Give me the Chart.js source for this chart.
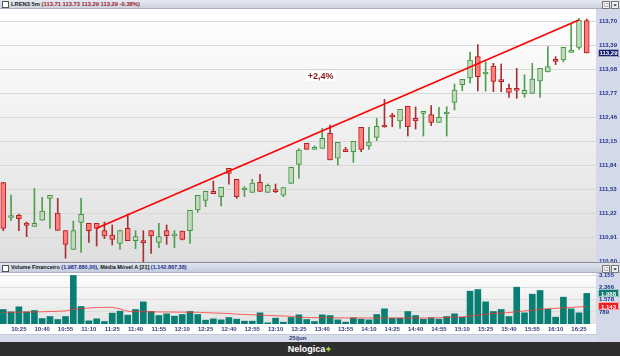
<!DOCTYPE html>
<html lang="pt-BR">
<head>
<meta charset="UTF-8">
<title>LREN3 5m</title>
<script src="https://cdn.jsdelivr.net/npm/chart.js"></script>
<style>
  body { margin:0; width:620px; height:356px; position:relative; overflow:hidden; background:#fff; font-family:"Liberation Sans", Arial, sans-serif; }
  .strip { position:absolute; box-sizing:border-box; }
  #top { left:0; top:0; width:620px; height:9px; background:linear-gradient(#e6e9f1,#cdd3e0); border-bottom:1px solid #a9b0c0; font-size:5.8px; font-weight:bold; line-height:8px; padding-left:11px; color:#222; }
  #top .v { color:#9c1b1b; }
  #volHead .b { color:#1d2f8c; }
  .ico { position:absolute; top:1px; width:5px; height:5px; border:1px solid #555; background:#fff; }
  .win { position:absolute; top:1px; width:6px; height:6px; border:1px solid #777; background:#f3f3f3; font-size:6px; line-height:6px; text-align:center; color:#222; }
  #axisTop { left:596px; top:9px; width:24px; height:253px; background:#d4d9ea; }
  #volHead { left:0; top:262px; width:620px; height:11px; background:linear-gradient(#dfe4ee,#c5cddd); border-top:1px solid #8b8f99; border-bottom:1px solid #aab2c4; font-size:5.5px; font-weight:bold; line-height:9px; padding-left:11px; color:#111; }
  #axisVol { left:596px; top:273px; width:24px; height:69px; background:#d4d9ea; }
  #dateRow { left:0; top:334px; width:596px; height:8px; background:#d6dcea; border-top:1px solid #c2c9d8; font-size:6px; font-weight:bold; line-height:7px; color:#2a3d7c; }
  #foot { left:0; top:342px; width:620px; height:14px; background:#2f2f2f; color:#fff; font-size:9px; font-weight:bold; line-height:14px; text-align:center; }
  #foot span { color:#9bdc3c; font-size:8px; }
  canvas { position:absolute; left:0; }
</style>
</head>
<body>
<div class="strip" id="top"><span class="ico" style="left:2px"></span>LREN3 5m <span class="v">(113.71 113.73 113.29 113.29 -0.38%)</span>
  <span class="win" style="left:602px">□</span><span class="win" style="left:611px">×</span></div>
<div class="strip" id="axisTop"></div>
<canvas id="price" width="620" height="252" style="top:10px"></canvas>
<div class="strip" id="volHead"><span class="ico" style="left:2px;top:2px"></span>Volume Financeiro <span class="b">(1.987.880,00)</span>, Média Móvel A [21] <span class="b">(1.142.867,38)</span>
  <span class="win" style="left:602px;top:2px">□</span><span class="win" style="left:611px;top:2px">×</span></div>
<div class="strip" id="axisVol"></div>
<canvas id="vol" width="620" height="61" style="top:273px"></canvas>
<div class="strip" id="dateRow"><span style="position:absolute;left:289px">25/jun</span></div>
<div class="strip" id="foot">Nelogica<span>✦</span></div>

<script>
// candles, 5 minutes, 25/jun
const times = ['10:15','10:20','10:25','10:30','10:35','10:40','10:45','10:50','10:55','11:00',
  '11:05','11:10','11:15','11:20','11:25','11:30','11:35','11:40','11:45','11:50',
  '11:55','12:00','12:05','12:10','12:15','12:20','12:25','12:30','12:35','12:40',
  '12:45','12:50','12:55','13:00','13:05','13:10','13:15','13:20','13:25','13:30',
  '13:35','13:40','13:45','13:50','13:55','14:00','14:05','14:10','14:15','14:20',
  '14:25','14:30','14:35','14:40','14:45','14:50','14:55','15:00','15:05','15:10',
  '15:15','15:20','15:25','15:30','15:35','15:40','15:45','15:50','15:55','16:00',
  '16:05','16:10','16:15','16:20','16:25','16:30'];

const opens  = [111.615,111.165,111.193,111.094,111.051,111.129,111.413,111.223,110.995,110.754,
  111.103,111.090,111.090,110.995,110.939,110.831,111.025,110.866,110.844,110.995,
  110.844,110.995,110.928,110.991,110.995,111.262,111.387,111.503,111.434,111.800,
  111.658,111.520,111.490,111.619,111.490,111.507,111.452,111.606,111.852,112.123,
  112.046,112.059,112.253,111.930,112.020,112.016,112.330,112.089,112.201,112.343,
  112.472,112.412,112.601,112.446,112.511,112.494,112.395,112.502,112.653,112.881,
  112.967,113.243,113.019,113.122,112.929,112.834,112.834,112.761,112.769,112.929,
  113.045,113.191,113.200,113.299,113.364,113.710];
const highs  = [111.620,111.456,111.210,111.107,111.542,111.426,111.452,111.413,110.995,111.120,
  111.413,111.090,111.090,111.107,111.068,111.003,111.210,110.995,110.995,110.995,
  111.090,111.068,110.995,110.991,111.258,111.452,111.503,111.637,111.555,111.800,
  111.658,111.563,111.658,111.723,111.598,111.598,111.551,111.813,112.055,112.123,
  112.089,112.317,112.360,112.136,112.072,112.149,112.330,112.330,112.446,112.692,
  112.511,112.563,112.601,112.593,112.533,112.610,112.589,112.597,112.890,112.950,
  113.303,113.398,113.178,113.157,113.148,112.890,113.092,113.010,113.157,113.092,
  113.372,113.243,113.364,113.674,113.738,113.730];
const lows   = [110.995,111.124,110.995,110.917,111.051,111.129,111.025,110.999,110.638,110.754,
  110.715,110.844,110.797,110.892,110.810,110.754,110.866,110.762,110.590,110.702,
  110.775,110.818,110.775,110.875,110.831,111.232,111.305,111.473,111.314,111.594,
  111.413,111.434,111.490,111.503,111.490,111.486,111.434,111.606,111.671,112.046,
  112.046,112.059,111.908,111.843,112.016,111.878,112.016,112.046,112.158,112.330,
  112.338,112.317,112.218,112.308,112.218,112.352,112.395,112.218,112.554,112.804,
  112.899,112.799,112.799,112.791,112.791,112.718,112.705,112.718,112.769,112.718,
  113.045,113.140,113.174,113.299,113.338,113.290];
const closes = [111.025,111.190,111.150,111.064,111.090,111.249,111.452,110.999,110.818,110.995,
  111.206,110.995,111.025,110.926,110.883,110.995,110.866,110.917,110.840,110.926,
  110.917,110.930,110.932,110.883,111.258,111.452,111.503,111.473,111.555,111.736,
  111.434,111.529,111.611,111.503,111.581,111.499,111.551,111.813,112.037,112.046,
  112.055,112.188,111.908,112.136,112.016,112.149,112.046,112.141,112.343,112.334,
  112.463,112.563,112.338,112.412,112.533,112.395,112.459,112.511,112.812,112.950,
  113.200,112.985,113.028,112.924,112.920,112.782,112.808,112.808,112.954,113.092,
  113.114,113.183,113.364,113.329,113.717,113.290];

// volume financeiro (milhares) e média móvel 21
const volumes = [942,790,1117,790,877,357,487,292,487,3155,
  1137,205,335,162,704,834,574,942,1440,812,
  552,660,509,617,812,617,249,335,270,422,
  314,184,184,725,75,379,119,422,595,292,
  162,595,552,270,119,400,314,270,617,985,
  379,379,812,552,314,400,314,487,660,444,
  2134,2242,1440,812,942,487,2394,725,1939,2178,
  964,444,1744,985,725,1988];
const volMA = [760,765,770,775,785,795,810,830,850,960,
  1000,1040,1070,1080,1085,980,830,810,800,790,
  785,780,775,770,765,760,740,720,700,680,
  640,620,600,580,560,540,520,500,430,420,
  410,410,410,400,395,390,390,390,390,390,
  390,390,390,390,390,395,400,420,440,455,
  520,585,630,680,720,740,800,850,900,950,
  990,1020,1050,1080,1110,1143];

const priceTicks = [110.60,110.91,111.22,111.53,111.84,112.15,112.46,112.77,113.08,113.39,113.70];
const volTicks = [789,1578,2366,3155];
const timeTicks = ['10:25','10:40','10:55','11:10','11:25','11:40','11:55','12:10','12:25','12:40',
  '12:55','13:10','13:25','13:40','13:55','14:10','14:25','14:40','14:55','15:10',
  '15:25','15:40','15:55','16:10','16:25'];

// linha de tendência e nota
const trendFrom = { i: 12, price: 111.026 };
const trendTo = { i: 74, price: 113.717 };
const noteText = '+2,4%';
const noteAt = { i: 40.8, price: 112.99 };

const idx = times.map((t, i) => i);
const up = i => closes[i] >= opens[i];
const ptBR = v => Math.round(v).toString().replace(/\B(?=(\d{3})+(?!\d))/g, '.');

const xRange = { min: -0.424, max: 76.19 };
const noPad = s => { s.paddingTop = 0; s.paddingBottom = 0; s.paddingLeft = 0; s.paddingRight = 0; };

const bgPlugin = {
  id: 'bg',
  beforeDraw(chart, args, opts) {
    const { ctx, chartArea: a } = chart;
    const g = ctx.createLinearGradient(0, a.top, 0, a.bottom);
    g.addColorStop(0, '#ffffff');
    g.addColorStop(1, opts.bottom);
    ctx.save();
    ctx.fillStyle = g;
    ctx.fillRect(a.left, a.top, a.right - a.left, a.bottom - a.top);
    ctx.restore();
  }
};

function tag(chart, value, text, fill) {
  const { ctx } = chart;
  const y = chart.scales.y.getPixelForValue(value);
  const x = chart.chartArea.right + 2;
  ctx.save();
  ctx.fillStyle = fill;
  ctx.fillRect(x, Math.round(y - 4), 21, 8);
  ctx.strokeStyle = '#ffffff';
  ctx.lineWidth = 0.6;
  ctx.strokeRect(x + 0.5, Math.round(y - 4) + 0.5, 20, 7);
  ctx.fillStyle = '#ffffff';
  ctx.font = 'bold 6px "Liberation Sans"';
  ctx.textAlign = 'center';
  ctx.textBaseline = 'middle';
  ctx.fillText(text, x + 10.5, y + 0.5);
  ctx.restore();
}

const pricePlugin = {
  id: 'priceExtras',
  afterDraw(chart) {
    const { ctx, scales } = chart;
    const nx = scales.x.getPixelForValue(noteAt.i);
    const ny = scales.y.getPixelForValue(noteAt.price);
    ctx.save();
    ctx.font = 'bold 9px "Liberation Sans"';
    const w = ctx.measureText(noteText).width + 4;
    ctx.fillStyle = '#ffffff';
    ctx.fillRect(nx - w / 2, ny - 5, w, 10);
    ctx.fillStyle = '#8e1414';
    ctx.textAlign = 'center';
    ctx.textBaseline = 'middle';
    ctx.fillText(noteText, nx, ny + 0.5);
    ctx.restore();
    const last = closes[closes.length - 1];
    tag(chart, last, last.toFixed(2).replace('.', ','), '#131c6b');
  }
};

const volPlugin = {
  id: 'volExtras',
  afterDraw(chart) {
    const { ctx, scales, chartArea } = chart;
    // rótulos de horário sob o volume
    ctx.save();
    ctx.font = 'bold 6px "Liberation Sans"';
    ctx.fillStyle = '#2a3d7c';
    ctx.textAlign = 'center';
    ctx.textBaseline = 'middle';
    scales.x.ticks.forEach(t => {
      ctx.fillText(times[t.value], scales.x.getPixelForValue(t.value), chartArea.bottom + 5);
    });
    ctx.restore();
    const lv = volumes[volumes.length - 1], lm = volMA[volMA.length - 1];
    tag(chart, lv, ptBR(lv), '#0e7b70');
    tag(chart, lm, ptBR(lm), '#f01c1c');
  }
};

new Chart(document.getElementById('price'), {
  type: 'bar',
  data: {
    datasets: [
      {
        type: 'line',
        data: [{ x: trendFrom.i, y: trendFrom.price }, { x: trendTo.i, y: trendTo.price }],
        borderColor: '#ff0000',
        borderWidth: 1.6,
        pointRadius: 0,
        order: 0
      },
      {
        data: idx.map(i => ({ x: i, y: [lows[i], highs[i]] })),
        backgroundColor: c => up(c.dataIndex) ? '#4e9f4e' : '#a63232',
        barThickness: 1,
        grouped: false,
        order: 2
      },
      {
        data: idx.map(i => ({ x: i, y: [opens[i], closes[i]] })),
        backgroundColor: c => up(c.dataIndex) ? '#c3d9bd' : '#ff7d7d',
        borderColor: c => up(c.dataIndex) ? '#3f963f' : '#b42020',
        borderWidth: 1,
        borderSkipped: false,
        minBarLength: 2,
        barThickness: 5,
        grouped: false,
        order: 1
      }
    ]
  },
  options: {
    responsive: false,
    animation: false,
    layout: { padding: 0 },
    plugins: { legend: { display: false }, tooltip: { enabled: false }, bg: { bottom: '#dfdfdf' } },
    scales: {
      x: { type: 'linear', offset: false, min: xRange.min, max: xRange.max, display: false },
      y: {
        position: 'right',
        min: 110.59,
        max: 113.846,
        afterBuildTicks: s => { s.ticks = priceTicks.map(v => ({ value: v })); },
        afterFit: s => { s.width = 24; noPad(s); },
        border: { display: false },
        grid: { color: '#d8d8d8', drawTicks: false },
        ticks: {
          padding: 3,
          color: '#1d3590',
          font: { family: 'Liberation Sans', size: 6, weight: 'bold' },
          callback: v => v.toFixed(2).replace('.', ',')
        }
      }
    }
  },
  plugins: [bgPlugin, pricePlugin]
});

new Chart(document.getElementById('vol'), {
  type: 'bar',
  data: {
    datasets: [
      {
        type: 'line',
        data: idx.map(i => ({ x: i, y: volMA[i] })),
        borderColor: 'rgba(255,50,50,0.75)',
        borderWidth: 1,
        pointRadius: 0,
        order: 0
      },
      {
        data: idx.map(i => ({ x: i, y: volumes[i] })),
        backgroundColor: '#097f73',
        barThickness: 6,
        order: 1
      }
    ]
  },
  options: {
    responsive: false,
    animation: false,
    layout: { padding: 0 },
    plugins: { legend: { display: false }, tooltip: { enabled: false }, bg: { bottom: '#e2e2e2' } },
    scales: {
      x: {
        type: 'linear', offset: false, min: xRange.min, max: xRange.max,
        afterBuildTicks: s => { s.ticks = timeTicks.map(t => ({ value: times.indexOf(t) })); },
        afterFit: s => { s.height = 10; noPad(s); },
        border: { display: false },
        grid: { display: false },
        ticks: { display: false }
      },
      y: {
        position: 'right',
        min: 0,
        max: 3315,
        afterBuildTicks: s => { s.ticks = volTicks.map(v => ({ value: v })); },
        afterFit: s => { s.width = 24; noPad(s); },
        border: { display: false },
        grid: { color: '#dcdcdc', drawTicks: false },
        ticks: {
          padding: 3,
          color: '#1d3590',
          font: { family: 'Liberation Sans', size: 6, weight: 'bold' },
          callback: v => ptBR(v)
        }
      }
    }
  },
  plugins: [bgPlugin, volPlugin]
});
</script>
</body>
</html>
